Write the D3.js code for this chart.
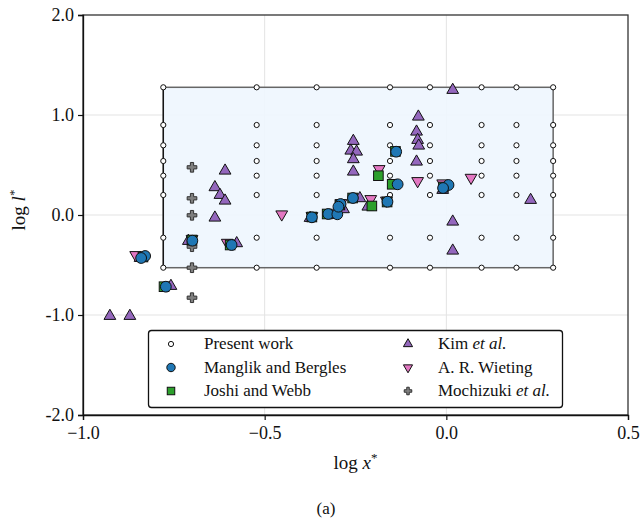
<!DOCTYPE html>
<html>
<head>
<meta charset="utf-8">
<script src="https://cdn.jsdelivr.net/npm/d3@7"></script>
<style>
  body { margin: 0; background: #fff; }
  svg text { font-family: "Liberation Serif", serif; fill: #111; }
</style>
</head>
<body>
<div id="chart"></div>
<script>
// present work grid (log x*, log l*)
const presentX = [-0.779, -0.522, -0.357, -0.155, -0.045, 0.097, 0.193, 0.294];
const presentY = [1.277, 0.90, 0.697, 0.54, 0.393, 0.20, -0.227, -0.527];

const manglik = [
  [-0.829, -0.41], [-0.84, -0.43], [-0.772, -0.717], [-0.699, -0.257], [-0.591, -0.30],
  [-0.370, -0.023], [-0.325, 0.01], [-0.300, 0.007], [-0.291, 0.11], [-0.297, 0.083],
  [-0.257, 0.17], [-0.162, 0.133], [-0.138, 0.633], [-0.134, 0.307], [0.006, 0.30], [-0.009, 0.27]
];
const joshi = [
  [-0.835, -0.42], [-0.777, -0.717], [-0.70, -0.25], [-0.595, -0.30], [-0.37, -0.02],
  [-0.328, 0.01], [-0.293, 0.10], [-0.258, 0.17], [-0.187, 0.393], [-0.205, 0.09],
  [-0.163, 0.13], [-0.14, 0.636], [-0.149, 0.307], [-0.008, 0.28]
];
const kim = [
  [-0.926, -1.01], [-0.871, -1.01], [-0.843, -0.43], [-0.758, -0.71], [-0.71, -0.26],
  [-0.609, 0.443], [-0.637, 0.277], [-0.623, 0.20], [-0.609, 0.143], [-0.637, -0.027],
  [-0.577, -0.283], [-0.375, -0.03], [-0.31, 0.0], [-0.283, 0.057], [-0.238, 0.167],
  [-0.256, 0.74], [-0.263, 0.643], [-0.247, 0.633], [-0.256, 0.557], [-0.256, 0.433],
  [-0.216, 0.083], [0.0176, 1.25], [-0.077, 0.983], [-0.082, 0.833], [-0.079, 0.75],
  [-0.076, 0.693], [-0.082, 0.533], [-0.01, 0.25], [0.0176, -0.067], [0.0176, -0.357], [0.232, 0.15]
];
const wieting = [
  [-0.855, -0.40], [-0.70, -0.24], [-0.603, -0.277], [-0.453, 0.007], [-0.37, -0.01],
  [-0.185, 0.46], [-0.208, 0.16], [-0.165, 0.145], [-0.079, 0.34], [0.068, 0.373],
  [-0.010, 0.317], [-0.29, 0.12]
];
const mochizuki = [
  [-0.70, 0.477], [-0.70, 0.167], [-0.70, -0.003], [-0.70, -0.317], [-0.70, -0.527], [-0.70, -0.827]
];

const xTicks = [-1.0, -0.5, 0.0, 0.5];
const yTicks = [2.0, 1.0, 0.0, -1.0, -2.0];

const W = 643, H = 522;
const margin = { top: 15, right: 15, bottom: 107, left: 83 };
const width = W - margin.left - margin.right,
  height = H - margin.top - margin.bottom;

const svg = d3.select('#chart').append('svg')
  .attr('width', W).attr('height', H);
const g = svg.append('g')
  .attr('transform', 'translate(' + margin.left + ',' + margin.top + ')');

const x = d3.scaleLinear().domain([-1.0, 0.5]).range([0, width]);
const y = d3.scaleLinear().domain([-2.0, 2.0]).range([height, 0]);

// grid lines
g.selectAll('.vgrid').data(xTicks.slice(1, -1)).enter().append('line')
  .attr('x1', d => x(d)).attr('x2', d => x(d)).attr('y1', 0).attr('y2', height)
  .attr('stroke', '#e3e3e3').attr('stroke-width', 1);
g.selectAll('.hgrid').data(yTicks.slice(1, -1)).enter().append('line')
  .attr('y1', d => y(d)).attr('y2', d => y(d)).attr('x1', 0).attr('x2', width)
  .attr('stroke', '#e3e3e3').attr('stroke-width', 1);

// present work region
const px0 = d3.min(presentX), px1 = d3.max(presentX);
const py0 = d3.min(presentY), py1 = d3.max(presentY);
g.append('rect')
  .attr('x', x(px0)).attr('y', y(py1))
  .attr('width', x(px1) - x(px0)).attr('height', y(py0) - y(py1))
  .attr('fill', '#eef6fe').attr('fill-opacity', 0.9)
  .attr('stroke', '#666').attr('stroke-width', 1.5);
g.append('line')
  .attr('x1', x(px0)).attr('x2', x(px0)).attr('y1', y(py1)).attr('y2', y(py0))
  .attr('stroke', '#111').attr('stroke-width', 1.3);

const presentPts = [];
presentX.forEach(px => presentY.forEach(py => presentPts.push([px, py])));

const colors = {
  present: '#ffffff', manglik: '#1f77b4', joshi: '#2ca02c',
  kim: '#9467bd', wieting: '#e377c2', mochizuki: '#7f7f7f'
};

// k scales marker size (legend uses smaller markers)
function marker(sel, type, k) {
  k = k || 1;
  if (type === 'present') {
    sel.append('circle').attr('r', 2.6)
      .attr('fill', '#fff').attr('stroke', '#111').attr('stroke-width', 1);
  } else if (type === 'manglik') {
    sel.append('circle').attr('r', 5.4 * k)
      .attr('fill', colors.manglik).attr('stroke', '#111').attr('stroke-width', 1);
  } else if (type === 'joshi') {
    const s = 9.6 * k;
    sel.append('rect').attr('x', -s / 2).attr('y', -s / 2).attr('width', s).attr('height', s)
      .attr('fill', colors.joshi).attr('stroke', '#111').attr('stroke-width', 1);
  } else if (type === 'kim') {
    sel.append('path').attr('d', d3.symbol(d3.symbolTriangle, 60 * k * k)())
      .attr('fill', colors.kim).attr('stroke', '#111').attr('stroke-width', 1);
  } else if (type === 'wieting') {
    sel.append('path').attr('d', d3.symbol(d3.symbolTriangle, 60 * k * k)())
      .attr('transform', 'rotate(180)')
      .attr('fill', colors.wieting).attr('stroke', '#111').attr('stroke-width', 1);
  } else if (type === 'mochizuki') {
    sel.append('path').attr('d', d3.symbol(d3.symbolCross, 52 * k * k)())
      .attr('fill', colors.mochizuki).attr('stroke', '#333').attr('stroke-width', 1);
  }
}

function drawSeries(data, type) {
  g.selectAll('.pt-' + type).data(data).enter().append('g')
    .attr('class', 'pt-' + type)
    .attr('transform', d => 'translate(' + x(d[0]) + ',' + y(d[1]) + ')')
    .each(function () { marker(d3.select(this), type); });
}

drawSeries(presentPts, 'present');
drawSeries(kim, 'kim');
drawSeries(wieting, 'wieting');
drawSeries(mochizuki, 'mochizuki');
drawSeries(joshi, 'joshi');
drawSeries(manglik, 'manglik');

// frame
g.append('rect').attr('width', width).attr('height', height)
  .attr('fill', 'none').attr('stroke', '#333').attr('stroke-width', 1.3);

// axes
const xAxis = g.append('g').attr('transform', 'translate(0,' + height + ')')
  .call(d3.axisBottom(x).tickValues(xTicks).tickSize(5)
    .tickFormat(d => d3.format('.1f')(d).replace('-', '\u2212')));
const yAxis = g.append('g')
  .call(d3.axisLeft(y).tickValues(yTicks).tickSize(5)
    .tickFormat(d => d3.format('.1f')(d).replace('\u2212', '-')));
[xAxis, yAxis].forEach(a => {
  a.select('.domain').attr('stroke', '#111').attr('stroke-width', 1.3);
  a.selectAll('.tick line').attr('stroke', '#111').attr('stroke-width', 1.2);
  a.selectAll('.tick text').attr('font-family', '"Liberation Serif", serif')
    .attr('font-size', 18).attr('fill', '#111');
});
xAxis.selectAll('.tick text').attr('dy', '0.9em');
yAxis.selectAll('.tick text').attr('x', -9);

// axis titles
const xt = svg.append('text').attr('x', margin.left + width / 2).attr('y', 469)
  .attr('text-anchor', 'middle').attr('font-size', 19);
xt.append('tspan').text('log ');
xt.append('tspan').attr('font-style', 'italic').text('x');
xt.append('tspan').attr('dy', -7).attr('font-size', 13).text('*');

const yt = svg.append('text').attr('transform', 'translate(25,' + 210 + ') rotate(-90)')
  .attr('text-anchor', 'middle').attr('font-size', 19);
yt.append('tspan').text('log ');
yt.append('tspan').attr('font-style', 'italic').text('l');
yt.append('tspan').attr('dy', -7).attr('font-size', 13).text('*');

svg.append('text').attr('x', 326).attr('y', 514).attr('text-anchor', 'middle')
  .attr('font-size', 17).text('(a)');

// legend
const legendItems = [
  { type: 'present', label: ['Present work'] },
  { type: 'manglik', label: ['Manglik and Bergles'] },
  { type: 'joshi', label: ['Joshi and Webb'] },
  { type: 'kim', label: ['Kim ', 'et al.'] },
  { type: 'wieting', label: ['A. R. Wieting'] },
  { type: 'mochizuki', label: ['Mochizuki ', 'et al.'] }
];
const leg = svg.append('g');
leg.append('rect').attr('x', 148.5).attr('y', 330.5).attr('width', 414).attr('height', 77)
  .attr('rx', 3).attr('fill', '#fff').attr('stroke', '#111').attr('stroke-width', 1.3);
legendItems.forEach((it, i) => {
  const col = Math.floor(i / 3), row = i % 3;
  const mx = col === 0 ? 171 : 408, tx = col === 0 ? 204 : 438;
  const yy = 344 + row * 23.5;
  const m = leg.append('g').attr('transform', 'translate(' + mx + ',' + yy + ')');
  marker(m, it.type, 0.78);
  const t = leg.append('text').attr('x', tx).attr('y', yy + 5).attr('font-size', 17);
  t.append('tspan').text(it.label[0]);
  if (it.label[1]) t.append('tspan').attr('font-style', 'italic').text(it.label[1]);
});
</script>
</body>
</html>
